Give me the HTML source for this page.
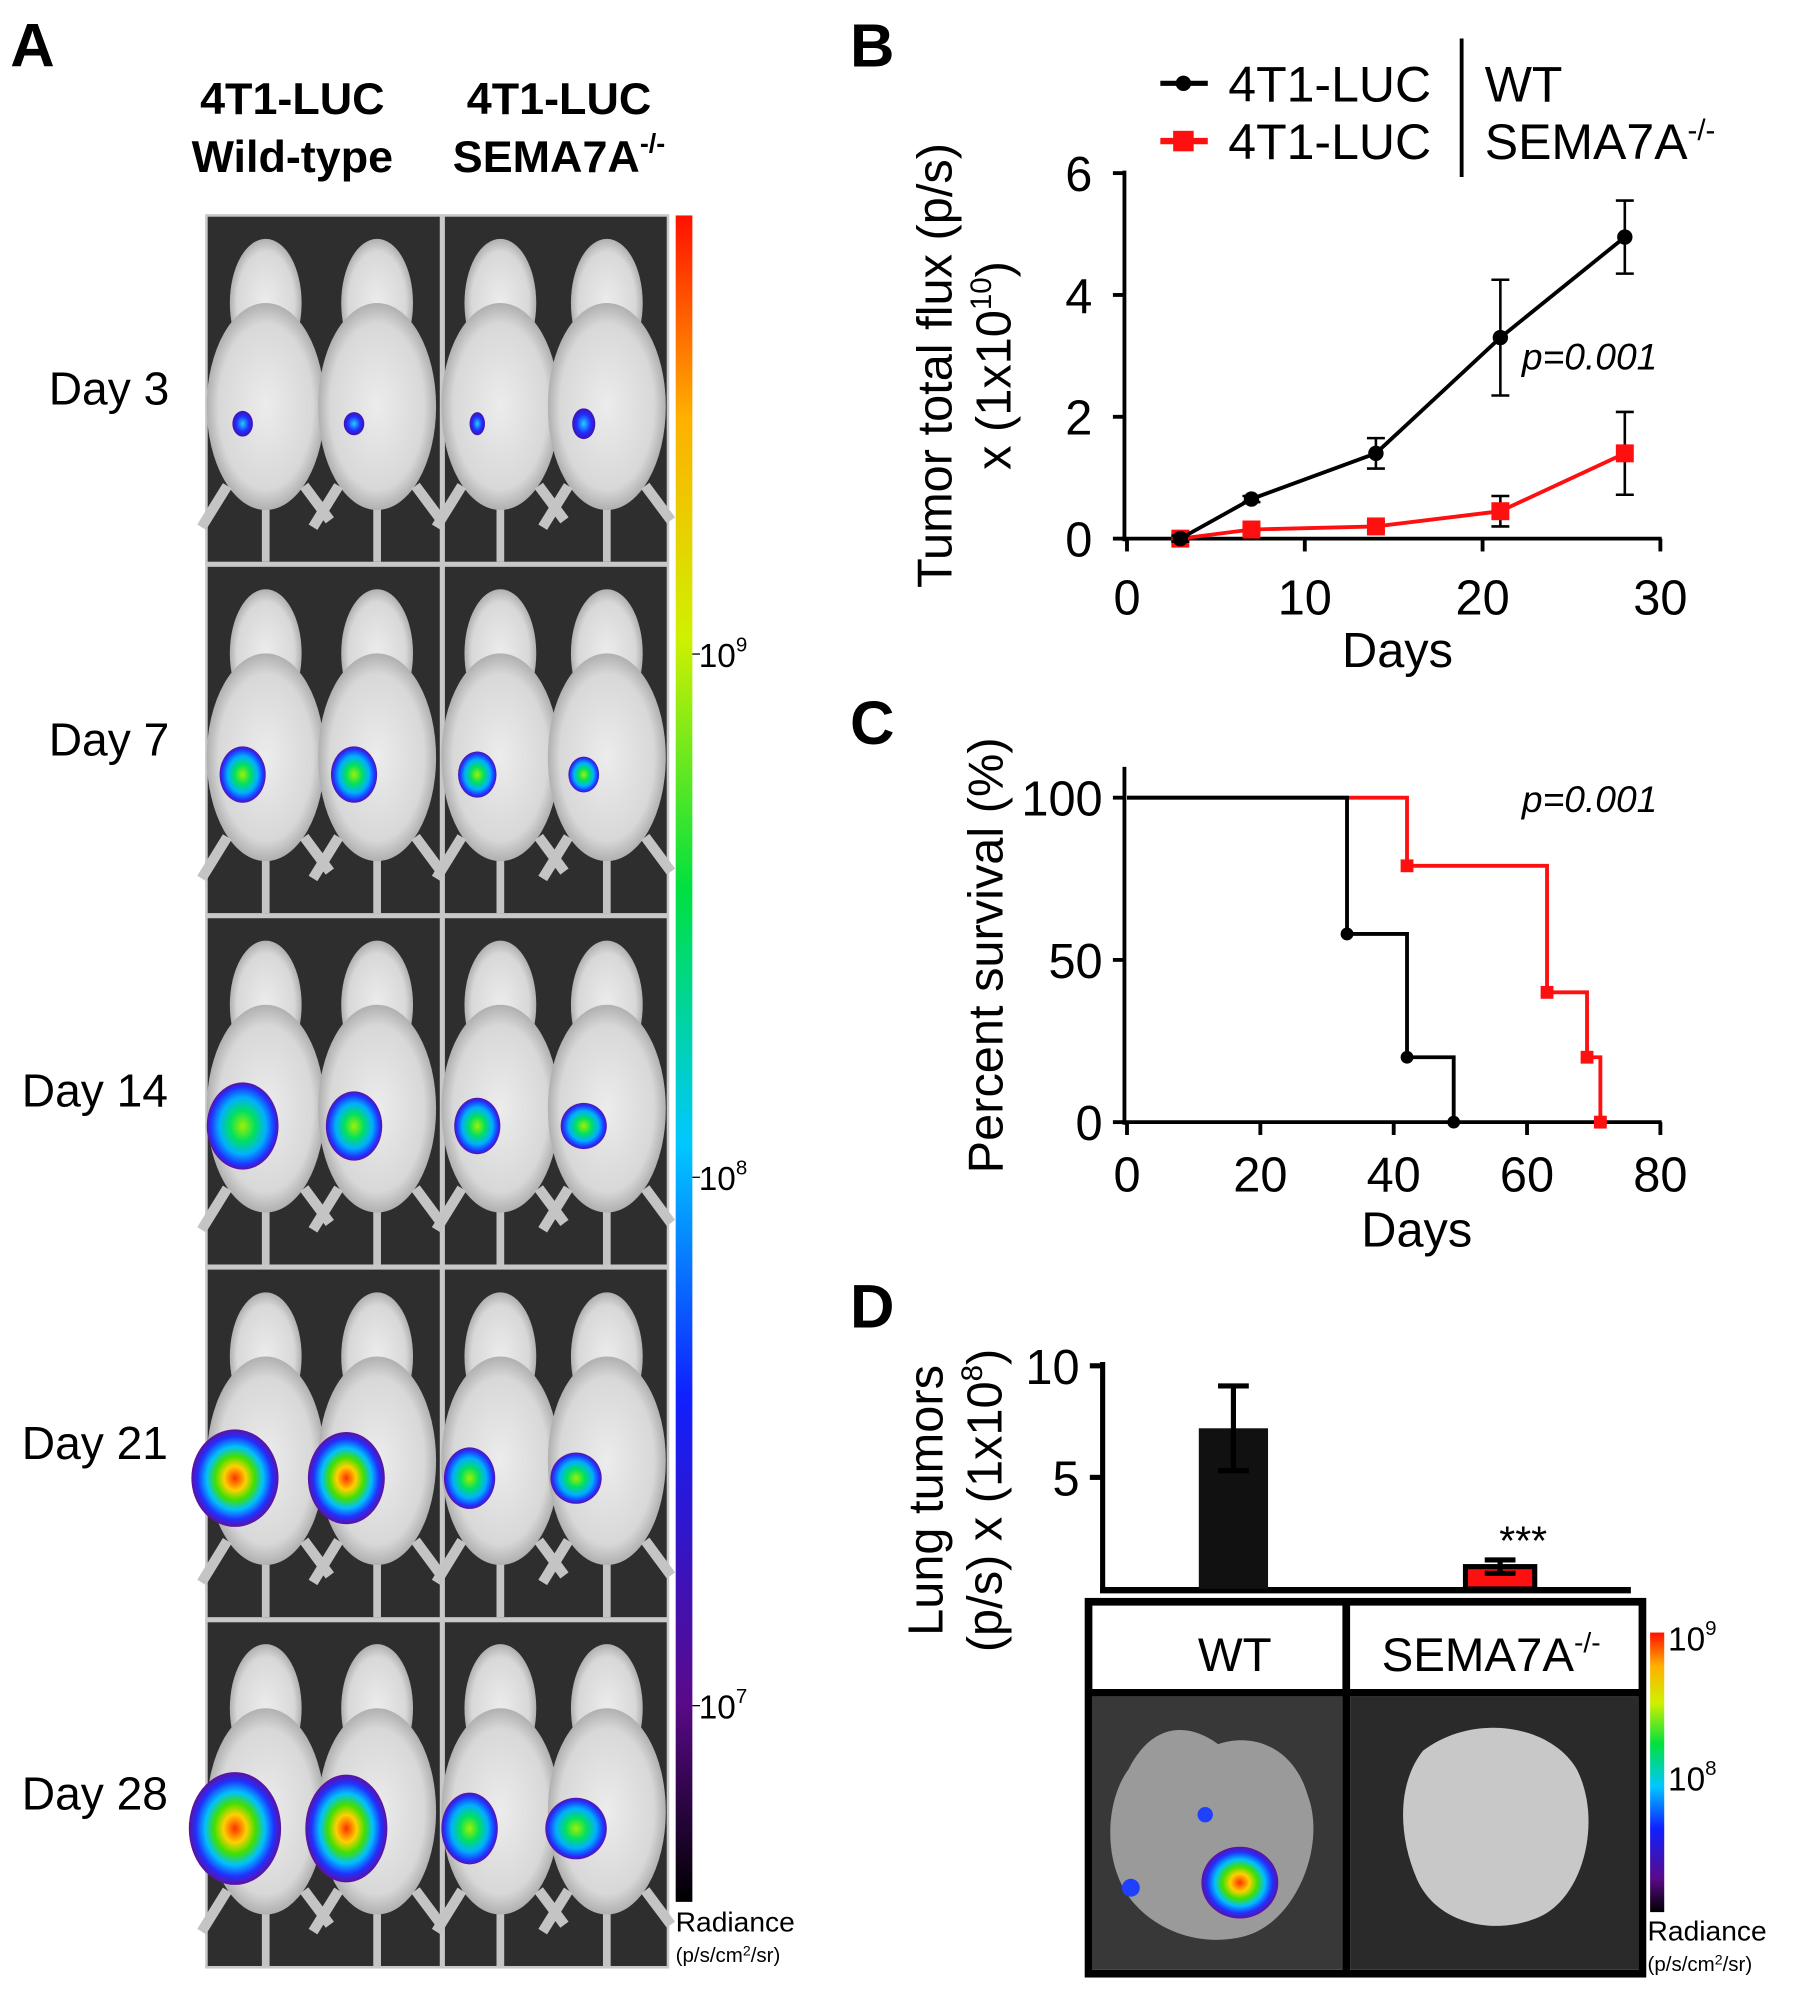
<!DOCTYPE html>
<html><head><meta charset="utf-8"><style>
html,body{margin:0;padding:0;background:#fff;}
svg{display:block;font-family:"Liberation Sans",Arial,sans-serif;}
</style></head><body>
<svg id="fig" width="1795" height="2016" viewBox="0 0 1400 1572" preserveAspectRatio="none" xmlns="http://www.w3.org/2000/svg">
<defs>
<linearGradient id="cbar" x1="0" y1="1" x2="0" y2="0">
<stop offset="0" stop-color="#000"/><stop offset="0.12" stop-color="#5a0a8a"/><stop offset="0.3" stop-color="#1020ff"/><stop offset="0.45" stop-color="#00c8ff"/><stop offset="0.6" stop-color="#00e040"/><stop offset="0.75" stop-color="#d0f000"/><stop offset="0.88" stop-color="#ffb000"/><stop offset="1" stop-color="#ff1000"/>
</linearGradient>
<radialGradient id="blobBig"><stop offset="0" stop-color="#ff3000"/><stop offset="0.25" stop-color="#ffd000"/><stop offset="0.45" stop-color="#40e000"/><stop offset="0.65" stop-color="#00c0ff"/><stop offset="0.85" stop-color="#2030ff"/><stop offset="1" stop-color="#6010a0"/></radialGradient>
<radialGradient id="blobMed"><stop offset="0" stop-color="#a0f000"/><stop offset="0.35" stop-color="#00e060"/><stop offset="0.65" stop-color="#00b0ff"/><stop offset="0.9" stop-color="#2030ff"/><stop offset="1" stop-color="#6010a0"/></radialGradient>
<radialGradient id="blobSm"><stop offset="0" stop-color="#20d0ff"/><stop offset="0.6" stop-color="#2030ff"/><stop offset="1" stop-color="#4010b0"/></radialGradient>
<radialGradient id="mouseG"><stop offset="0" stop-color="#ececec"/><stop offset="0.8" stop-color="#d8d8d8"/><stop offset="1" stop-color="#b0b0b0"/></radialGradient>
</defs>

<!-- Panel A -->
<text x="8" y="52" font-size="48" font-weight="bold">A</text>
<g font-size="35" font-weight="bold" text-anchor="middle">
<text x="228" y="89">4T1-LUC</text>
<text x="228" y="134">Wild-type</text>
<text x="436" y="89">4T1-LUC</text>
<text x="436" y="134">SEMA7A<tspan font-size="21" dy="-15">-/-</tspan></text>
</g>
<g id="mice"></g>
<rect x="527" y="168" width="13" height="1315" fill="url(#cbar)"/>
<g font-size="26">
<text x="545" y="520">10<tspan font-size="16" dy="-12">9</tspan></text>
<text x="545" y="928">10<tspan font-size="16" dy="-12">8</tspan></text>
<text x="545" y="1340">10<tspan font-size="16" dy="-12">7</tspan></text>
<line x1="540" y1="510" x2="546" y2="510" stroke="#000"/><line x1="540" y1="918" x2="546" y2="918" stroke="#000"/><line x1="540" y1="1330" x2="546" y2="1330" stroke="#000"/>
</g>
<text x="527" y="1506" font-size="22">Radiance</text>
<text x="527" y="1530" font-size="16">(p/s/cm<tspan font-size="11" dy="-5">2</tspan><tspan dy="5">/sr)</tspan></text>
<g font-size="36" text-anchor="middle" id="daylabels"></g>

<!-- Panel B -->
<text x="663" y="52" font-size="48" font-weight="bold">B</text>
<g id="chartB"></g>

<!-- Panel C -->
<text x="663" y="580" font-size="48" font-weight="bold">C</text>
<g id="chartC"></g>

<!-- Panel D -->
<text x="663" y="1035" font-size="48" font-weight="bold">D</text>
<g id="chartD"></g>
<rect x="849" y="1249" width="432" height="290" fill="#fff" stroke="#000" stroke-width="6"/>
<line x1="1050" y1="1249" x2="1050" y2="1539" stroke="#000" stroke-width="6"/>
<line x1="849" y1="1320" x2="1281" y2="1320" stroke="#000" stroke-width="6"/>
<rect x="852" y="1323" width="195" height="213" fill="#383838"/>
<rect x="1053" y="1323" width="225" height="213" fill="#2a2a2a"/>
<path d="M880,1380 C900,1340 930,1345 950,1360 C980,1350 1010,1365 1020,1400 C1035,1440 1010,1500 970,1510 C930,1520 890,1500 875,1470 C860,1440 865,1400 880,1380Z" fill="#9a9a9a"/>
<path d="M1110,1365 C1150,1335 1210,1345 1230,1380 C1250,1420 1235,1480 1200,1495 C1165,1510 1120,1500 1105,1465 C1090,1430 1090,1390 1110,1365Z" fill="#c8c8c8"/>
<ellipse cx="967" cy="1468" rx="30" ry="28" fill="url(#blobBig)"/>
<circle cx="940" cy="1415" r="6" fill="#2040ff"/><circle cx="882" cy="1472" r="7" fill="#2040ff"/>
<g font-size="37" text-anchor="middle">
<text x="963" y="1303">WT</text>
<text x="1163" y="1303">SEMA7A<tspan font-size="22" dy="-15">-/-</tspan></text>
</g>
<rect x="1287" y="1273" width="11" height="218" fill="url(#cbar)"/>
<text x="1301" y="1287" font-size="26">10<tspan font-size="16" dy="-12">9</tspan></text>
<text x="1301" y="1396" font-size="26">10<tspan font-size="16" dy="-12">8</tspan></text>
<text x="1285" y="1513" font-size="22">Radiance</text>
<text x="1285" y="1537" font-size="16">(p/s/cm<tspan font-size="11" dy="-5">2</tspan><tspan dy="5">/sr)</tspan></text>
</svg>
<script>
// ---- Panel B data ----
const daysB = [3, 7, 14, 21, 28];
const wtFlux = [0, 0.65, 1.4, 3.3, 4.95];
const wtErr = [0.05, 0.05, 0.25, 0.95, 0.6];
const koFlux = [0, 0.15, 0.2, 0.45, 1.4];
const koErr = [0.03, 0.05, 0.08, 0.25, 0.68];
const xTicksB = [0, 10, 20, 30];
const yTicksB = [0, 2, 4, 6];
// ---- Panel C data ----
const wtSurvT = [0, 33, 42, 49];
const wtSurvV = [100, 58, 20, 0];
const koSurvT = [0, 42, 63, 69, 71];
const koSurvV = [100, 79, 40, 20, 0];
const xTicksC = [0, 20, 40, 60, 80];
const yTicksC = [0, 50, 100];
// ---- Panel D data ----
const groupsD = ["WT", "SEMA7A-/-"];
const lungVals = [7.2, 1.0];
const lungErr = [1.9, 0.3];
const yTicksD = [5, 10];
// ---- Panel A data ----
const dayLabels = ["Day 3", "Day 7", "Day 14", "Day 21", "Day 28"];

const NS = "http://www.w3.org/2000/svg";
function mk(parent, tag, attrs, text) {
  const e = document.createElementNS(NS, tag);
  for (const k in attrs) e.setAttribute(k, attrs[k]);
  if (text !== undefined) e.textContent = text;
  parent.appendChild(e);
  return e;
}

// Panel B
(function () {
  const g = document.getElementById('chartB');
  const xS = d => 879 + (d / 30) * 416;
  const yS = v => 420 - (v / 6) * 285;
  mk(g, 'line', {x1: 877, y1: 133, x2: 877, y2: 422, stroke: '#000', 'stroke-width': 3});
  mk(g, 'line', {x1: 875, y1: 420, x2: 1296, y2: 420, stroke: '#000', 'stroke-width': 3});
  yTicksB.forEach(t => {
    mk(g, 'line', {x1: 868, y1: yS(t), x2: 877, y2: yS(t), stroke: '#000', 'stroke-width': 3});
    const e = mk(g, 'text', {x: 852, y: yS(t) + 14, 'font-size': 38, 'text-anchor': 'end'}, t);
    
    
  });
  xTicksB.forEach(t => {
    mk(g, 'line', {x1: xS(t), y1: 420, x2: xS(t), y2: 430, stroke: '#000', 'stroke-width': 3});
    const e = mk(g, 'text', {x: xS(t), y: 479, 'font-size': 38, 'text-anchor': 'middle'}, t);
    
    
  });
  const xt = mk(g, 'text', {x: 1090, y: 520, 'font-size': 38, 'text-anchor': 'middle'}, 'Days');
  
  
  const yt = mk(g, 'text', {transform: 'translate(742,285) rotate(-90)', 'font-size': 38, 'text-anchor': 'middle'}, 'Tumor total flux (p/s)');
  
  
  const yt2 = mk(g, 'text', {transform: 'translate(788,285) rotate(-90)', 'font-size': 38, 'text-anchor': 'middle'});
  yt2.innerHTML = 'x (1x10<tspan font-size="23" dy="-15">10</tspan><tspan dy="15">)</tspan>';
  
  
  function series(vals, errs, color, marker, name) {
    const pts = daysB.map((d, i) => xS(d) + ',' + yS(vals[i])).join(' ');
    const l = mk(g, 'polyline', {points: pts, fill: 'none', stroke: color, 'stroke-width': 3});
    
    
    daysB.forEach((d, i) => {
      const x = xS(d);
      mk(g, 'line', {x1: x, y1: yS(vals[i] + errs[i]), x2: x, y2: yS(vals[i] - errs[i]), stroke: '#000', 'stroke-width': 2});
      mk(g, 'line', {x1: x - 7, y1: yS(vals[i] + errs[i]), x2: x + 7, y2: yS(vals[i] + errs[i]), stroke: '#000', 'stroke-width': 2});
      mk(g, 'line', {x1: x - 7, y1: yS(vals[i] - errs[i]), x2: x + 7, y2: yS(vals[i] - errs[i]), stroke: '#000', 'stroke-width': 2});
      let m;
      if (marker === 'c') m = mk(g, 'circle', {cx: x, cy: yS(vals[i]), r: 6, fill: color});
      else m = mk(g, 'rect', {x: x - 7, y: yS(vals[i]) - 7, width: 14, height: 14, fill: color});
      
      
    });
  }
  series(koFlux, koErr, '#ff1010', 's', 'sema7a-ko');
  series(wtFlux, wtErr, '#000', 'c', 'wild-type');
  const p = mk(g, 'text', {x: 1187, y: 288, 'font-size': 29, 'font-style': 'italic'}, 'p=0.001');
  
  
  mk(g, 'line', {x1: 905, y1: 65, x2: 942, y2: 65, stroke: '#000', 'stroke-width': 4});
  mk(g, 'circle', {cx: 923, cy: 65, r: 6, fill: '#000'});
  mk(g, 'line', {x1: 905, y1: 110, x2: 942, y2: 110, stroke: '#ff1010', 'stroke-width': 5});
  mk(g, 'rect', {x: 915, y: 102, width: 16, height: 16, fill: '#ff1010'});
  const l1 = mk(g, 'text', {x: 958, y: 79, 'font-size': 39}, '4T1-LUC');
  
  
  const l2 = mk(g, 'text', {x: 958, y: 124, 'font-size': 39}, '4T1-LUC');
  
  
  mk(g, 'line', {x1: 1140, y1: 30, x2: 1140, y2: 138, stroke: '#000', 'stroke-width': 3});
  mk(g, 'text', {x: 1158, y: 79, 'font-size': 39}, 'WT');
  const s = mk(g, 'text', {x: 1158, y: 124, 'font-size': 39});
  s.innerHTML = 'SEMA7A<tspan font-size="23" dy="-15">-/-</tspan>';
})();

// Panel C
(function () {
  const g = document.getElementById('chartC');
  const xS = d => 879 + (d / 80) * 416;
  const yS = v => 875 - (v / 100) * 253;
  mk(g, 'line', {x1: 877, y1: 598, x2: 877, y2: 877, stroke: '#000', 'stroke-width': 3});
  mk(g, 'line', {x1: 875, y1: 875, x2: 1296, y2: 875, stroke: '#000', 'stroke-width': 3});
  yTicksC.forEach(t => {
    mk(g, 'line', {x1: 868, y1: yS(t), x2: 877, y2: yS(t), stroke: '#000', 'stroke-width': 3});
    const e = mk(g, 'text', {x: 860, y: yS(t) + 14, 'font-size': 38, 'text-anchor': 'end'}, t);
    
    
  });
  xTicksC.forEach(t => {
    mk(g, 'line', {x1: xS(t), y1: 875, x2: xS(t), y2: 885, stroke: '#000', 'stroke-width': 3});
    const e = mk(g, 'text', {x: xS(t), y: 929, 'font-size': 38, 'text-anchor': 'middle'}, t);
    
    
  });
  const xt = mk(g, 'text', {x: 1105, y: 972, 'font-size': 38, 'text-anchor': 'middle'}, 'Days');
  
  
  const yt = mk(g, 'text', {transform: 'translate(782,745) rotate(-90)', 'font-size': 38, 'text-anchor': 'middle'}, 'Percent survival (%)');
  
  
  function km(T, V, color, name, sq) {
    let d = 'M' + xS(T[0]) + ',' + yS(V[0]);
    for (let i = 1; i < T.length; i++) d += ' H' + xS(T[i]) + ' V' + yS(V[i]);
    const p = mk(g, 'path', {d: d, fill: 'none', stroke: color, 'stroke-width': 3});
    
    
    for (let i = 1; i < T.length; i++) {
      let m;
      if (sq) m = mk(g, 'rect', {x: xS(T[i]) - 5, y: yS(V[i]) - 5, width: 10, height: 10, fill: color});
      else m = mk(g, 'circle', {cx: xS(T[i]), cy: yS(V[i]), r: 5, fill: color});
      
      
    }
  }
  km(koSurvT, koSurvV, '#ff1010', 'sema7a-ko', true);
  km(wtSurvT, wtSurvV, '#000', 'wild-type', false);
  const p = mk(g, 'text', {x: 1187, y: 633, 'font-size': 29, 'font-style': 'italic'}, 'p=0.001');
  
  
})();

// Panel D
(function () {
  const g = document.getElementById('chartD');
  const yS = v => 1239 - (v / 10) * 174;
  const xC = [962, 1170];
  mk(g, 'line', {x1: 860, y1: 1062, x2: 860, y2: 1242, stroke: '#000', 'stroke-width': 4});
  mk(g, 'line', {x1: 858, y1: 1240, x2: 1272, y2: 1240, stroke: '#000', 'stroke-width': 5});
  yTicksD.forEach(t => {
    mk(g, 'line', {x1: 850, y1: yS(t), x2: 860, y2: yS(t), stroke: '#000', 'stroke-width': 4});
    const e = mk(g, 'text', {x: 842, y: yS(t) + 14, 'font-size': 38, 'text-anchor': 'end'}, t);
    
    
  });
  groupsD.forEach((gr, i) => {
    const b = mk(g, 'rect', {x: xC[i] - 27, y: yS(lungVals[i]), width: 54, height: 1239 - yS(lungVals[i]), fill: i === 0 ? '#111' : '#ff1010', stroke: '#000', 'stroke-width': i === 0 ? 0 : 4});
    
    
    const top = yS(lungVals[i] + lungErr[i]), bot = yS(lungVals[i] - lungErr[i]);
    mk(g, 'line', {x1: xC[i], y1: top, x2: xC[i], y2: bot, stroke: '#000', 'stroke-width': 4});
    mk(g, 'line', {x1: xC[i] - 12, y1: top, x2: xC[i] + 12, y2: top, stroke: '#000', 'stroke-width': 4});
    mk(g, 'line', {x1: xC[i] - 12, y1: bot, x2: xC[i] + 12, y2: bot, stroke: '#000', 'stroke-width': 4});
  });
  const s = mk(g, 'text', {x: 1188, y: 1212, 'font-size': 32, 'text-anchor': 'middle'}, '***');
  
  
  const yt = mk(g, 'text', {transform: 'translate(735,1170) rotate(-90)', 'font-size': 38, 'text-anchor': 'middle'}, 'Lung tumors');
  
  
  const yt2 = mk(g, 'text', {transform: 'translate(781,1170) rotate(-90)', 'font-size': 38, 'text-anchor': 'middle'});
  yt2.innerHTML = '(p/s) x (1x10<tspan font-size="23" dy="-15">8</tspan><tspan dy="15">)</tspan>';
  
  
})();

// Panel A mice grid
(function () {
  const g = document.getElementById('mice');
  const rows = [167, 440, 714, 988, 1263, 1535];
  const cols = [160, 345, 522];
  mk(g, 'rect', {x: 160, y: 167, width: 362, height: 1368, fill: '#c8c8c8'});
  const blobs = [
    [[8, 10, 'blobSm'], [8, 9, 'blobSm'], [6, 9, 'blobSm'], [9, 12, 'blobSm']],
    [[18, 22, 'blobMed'], [18, 22, 'blobMed'], [15, 18, 'blobMed'], [12, 14, 'blobMed']],
    [[28, 34, 'blobMed'], [22, 27, 'blobMed'], [18, 22, 'blobMed'], [18, 18, 'blobMed']],
    [[34, 38, 'blobBig'], [30, 36, 'blobBig'], [20, 24, 'blobMed'], [20, 20, 'blobMed']],
    [[36, 44, 'blobBig'], [32, 42, 'blobBig'], [22, 28, 'blobMed'], [24, 24, 'blobMed']]
  ];
  for (let r = 0; r < 5; r++) {
    for (let c = 0; c < 2; c++) {
      const x0 = cols[c] + 2, y0 = rows[r] + 2, w = cols[c + 1] - cols[c] - 4, h = rows[r + 1] - rows[r] - 4;
      const cell = mk(g, 'g', {});
      
      
      mk(cell, 'rect', {x: x0, y: y0, width: w, height: h, fill: '#2e2e2e'});
      for (let m = 0; m < 2; m++) {
        const cx = x0 + w * (m === 0 ? 0.25 : 0.73);
        mk(cell, 'line', {x1: cx, y1: y0 + h * 0.75, x2: cx, y2: y0 + h, stroke: '#c4c4c4', 'stroke-width': 6});
        mk(cell, 'ellipse', {cx: cx, cy: y0 + h * 0.25, rx: 28, ry: 50, fill: 'url(#mouseG)'});
        mk(cell, 'ellipse', {cx: cx, cy: y0 + h * 0.55, rx: 46, ry: h * 0.3, fill: 'url(#mouseG)'});
        mk(cell, 'line', {x1: cx - 30, y1: y0 + h * 0.78, x2: cx - 50, y2: y0 + h * 0.9, stroke: '#c4c4c4', 'stroke-width': 8});
        mk(cell, 'line', {x1: cx + 30, y1: y0 + h * 0.78, x2: cx + 50, y2: y0 + h * 0.88, stroke: '#c4c4c4', 'stroke-width': 8});
        const b = blobs[r][c * 2 + m];
        mk(cell, 'ellipse', {cx: cx - 18 + (r > 2 ? -6 : 0), cy: y0 + h * 0.6, rx: b[0], ry: b[1], fill: 'url(#' + b[2] + ')'});
      }
    }
  }
  const dl = document.getElementById('daylabels');
  dayLabels.forEach((t, i) => {
    const e = mk(dl, 'text', {x: i < 2 ? 85 : 74, y: (rows[i] + rows[i + 1]) / 2 + 12}, t);
    
    
  });
})();
</script>
</body></html>
